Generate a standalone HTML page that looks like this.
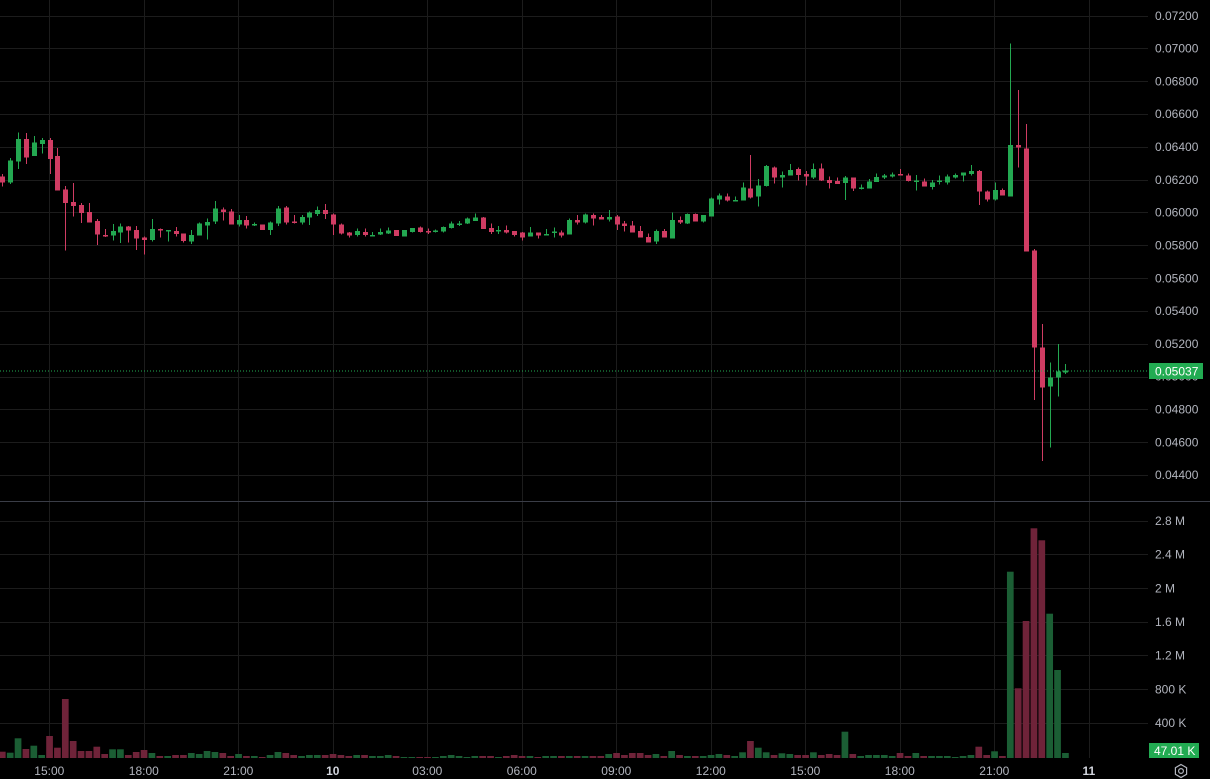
<!DOCTYPE html>
<html>
<head>
<meta charset="utf-8">
<style>
  html,body{margin:0;padding:0;background:#000;}
  body{width:1210px;height:779px;overflow:hidden;}
  svg{display:block;}
  text{font-family:"Liberation Sans",sans-serif;font-size:12px;fill:#b2b5be;}
</style>
</head>
<body>
<svg id="chart" width="1210" height="779" viewBox="0 0 1210 779" xmlns="http://www.w3.org/2000/svg">
  <rect x="0" y="0" width="1210" height="779" fill="#000"/>
  <g id="grid" stroke="#1c1c1c" stroke-width="1" shape-rendering="crispEdges"></g>
  <line x1="0" y1="501.5" x2="1210" y2="501.5" stroke="#3a3d47" stroke-width="1"/>
  <g id="vol"></g>
  <g id="candles" shape-rendering="crispEdges"></g>
  <line x1="0" y1="371" x2="1148" y2="371" stroke="#22ab52" stroke-width="1" stroke-dasharray="1 2"/>

  <!-- price axis labels -->
  <g>
    <text x="1155" y="20">0.07200</text>
    <text x="1155" y="52.5">0.07000</text>
    <text x="1155" y="85.4">0.06800</text>
    <text x="1155" y="118.2">0.06600</text>
    <text x="1155" y="151">0.06400</text>
    <text x="1155" y="183.8">0.06200</text>
    <text x="1155" y="216.6">0.06000</text>
    <text x="1155" y="249.4">0.05800</text>
    <text x="1155" y="282.3">0.05600</text>
    <text x="1155" y="315.1">0.05400</text>
    <text x="1155" y="347.9">0.05200</text>
    <text x="1155" y="380.7">0.05000</text>
    <text x="1155" y="413.5">0.04800</text>
    <text x="1155" y="446.3">0.04600</text>
    <text x="1155" y="479.2">0.04400</text>
  </g>
  <rect x="1149" y="363" width="54" height="16" fill="#22ab52"/>
  <text x="1155" y="375.5" style="fill:#ffffff">0.05037</text>

  <!-- volume axis labels -->
  <g>
    <text x="1155" y="525">2.8 M</text>
    <text x="1155" y="558.7">2.4 M</text>
    <text x="1155" y="592.4">2 M</text>
    <text x="1155" y="626">1.6 M</text>
    <text x="1155" y="659.7">1.2 M</text>
    <text x="1155" y="693.4">800 K</text>
    <text x="1155" y="727">400 K</text>
  </g>
  <rect x="1149" y="743" width="50" height="15" fill="#22ab52"/>
  <text x="1154" y="755" style="fill:#ffffff">47.01 K</text>

  <!-- time axis -->
  <g text-anchor="middle">
    <text x="49.3" y="775">15:00</text>
    <text x="143.8" y="775">18:00</text>
    <text x="238.3" y="775">21:00</text>
    <text x="332.8" y="775" style="font-weight:bold;fill:#d1d4dc">10</text>
    <text x="427.3" y="775">03:00</text>
    <text x="521.8" y="775">06:00</text>
    <text x="616.3" y="775">09:00</text>
    <text x="710.8" y="775">12:00</text>
    <text x="805.3" y="775">15:00</text>
    <text x="899.8" y="775">18:00</text>
    <text x="994.3" y="775">21:00</text>
    <text x="1088.8" y="775" style="font-weight:bold;fill:#d1d4dc">11</text>
  </g>

  <!-- settings icon -->
  <g fill="none" stroke="#b2b5be" stroke-width="1.2">
    <polygon points="1181,764.5 1186.6,767.7 1186.6,774.3 1181,777.5 1175.4,774.3 1175.4,767.7"/>
    <circle cx="1181" cy="771" r="2.4"/>
  </g>
</svg>

<script>
(function(){
  var NS="http://www.w3.org/2000/svg";
  function el(parent,name,attrs){var e=document.createElementNS(NS,name);for(var k in attrs)e.setAttribute(k,attrs[k]);parent.appendChild(e);return e;}
  var grid=document.getElementById('grid');
  // horizontal price gridlines
  for(var k=0;k<=14;k++){var y=Math.round(15.5+k*32.82)+0.5;el(grid,'line',{x1:0,y1:y,x2:1148,y2:y});}
  // volume gridlines
  for(var j=0;j<=6;j++){var y2=Math.round(520.7+j*33.67)+0.5;el(grid,'line',{x1:0,y1:y2,x2:1148,y2:y2});}
  // vertical gridlines
  for(var t=0;t<12;t++){var x=Math.round(49.3+94.5*t)+0.5;el(grid,'line',{x1:x,y1:0,x2:x,y2:758});}

  var C=[
['r',176.7,182.3,174,186.7],['g',160.7,182.7,158,184],['g',139,161.7,132.7,169],['r',139,157.3,133,164],
['g',142.7,156,136,156],['g',140,144,138,153.3],['r',140,159,138,174],['r',156,190.7,148,190.7],
['r',189.7,203,186,250.7],['r',202,206,183,216.7],['r',205,213,203,223],['r',212,222.7,203,222.7],
['r',221,234.7,219,245],['r',235,236,229,237],['g',231,235.7,224,240.7],['g',226.7,232.7,223.7,243],
['r',226.7,230.7,226,242.7],['r',230,238.7,226,250],['r',237.7,240,236.7,254.3],['g',229,240,219,241.7],
['r',229,230.7,228.3,237.3],['g',230,230.7,230,241.7],['r',231,234,227,236.7],['r',233.3,241,233.3,242.7],
['g',235,241.7,230,244],['g',223.7,235.7,222.7,235.7],['g',222,225.3,218.3,239.3],['g',208.3,221.7,201,224],
['r',209.3,212,207.7,220.7],['r',211.7,224.7,209,224.7],['g',220,224.3,215,226.7],['r',220,225.3,216,228.3],
['g',224,225.3,222.7,226],['r',224.3,230,224.3,230],['g',222.7,230,221.7,235],['g',208.3,223.3,206,226],
['r',207.7,222.7,206,224.3],['r',221.7,222.7,215,223.3],['g',217,222.3,215,224.3],['g',212.3,217.7,211.7,225],
['g',210,214,206.7,216],['r',210,214,204,219],['r',214.3,224.3,213.3,235],['r',224.3,233.7,223.7,234.3],
['r',232.7,235.7,232,237.7],['g',231,235,228.3,236.7],['r',232,235,228.3,236.7],['g',235,236,232,236.7],
['g',232,234.7,228.3,235],['g',230.7,233.7,227.3,234],['r',230,236,230,236],['g',230,236.7,230,236.7],
['g',228,232,228,232.3],['r',227.7,232,226.3,232.7],['r',231,232,228.7,234],['g',230.7,231.7,229.7,232.7],
['g',227,231.7,226.7,232.3],['g',223.7,228,221.7,228.3],['g',223.3,225,221,226],['g',218.7,223.7,217.7,224],
['g',217.7,221,213.3,221],['r',217.7,229,217,229],['r',228,232,223.3,234],['g',230,231,226,234],
['r',230,232.7,225.3,233.3],['r',231,235,231,236.7],['r',232.7,237.7,232,240.7],['g',232.3,236.3,227,236.3],
['r',232.3,235.7,232.3,238.3],['g',234,235,229,235.7],['g',231.7,232.7,227.7,237.7],['r',232.3,235.7,230.3,237.7],
['g',220,234.3,218.3,234.3],['r',220,222.7,215,224.3],['g',214.3,222.7,213.3,223.3],['r',215,218.7,213.3,225.3],
['r',217,219.7,215,219.7],['g',217,219.7,210,221.7],['r',216.7,224.3,215,230],['r',223.3,226,221,231.7],
['r',225.3,232.7,221,232.7],['r',231,237.3,226,237.7],['r',237,242.3,233.3,242.3],['g',231,241.3,229.3,244],
['r',231,237.3,229,237.3],['g',220,238.3,212.3,238.3],['r',220,222.7,216.3,224],['g',214,223.3,213.3,224],
['r',214,221.7,213.3,221.7],['g',215,221.7,215,222.3],['g',198.3,216.7,197.3,216.7],['g',195.3,199.3,193.3,204.3],
['r',196.7,200.7,193.3,201.7],['g',200,201,196.7,201.7],['g',187.7,200.7,182.7,200.7],['r',188.7,197.7,155,198.3],
['g',185.7,196.7,179,206.7],['g',166,186,165,186.7],['r',167.3,177.3,166.7,183.3],['g',175,177.3,171.7,187.7],
['g',170,175.7,164,175.7],['r',169,175,167.7,180.3],['r',174,176.7,171,185.7],['g',169,177.7,163.3,179],
['r',168.3,180.7,163.3,181],['r',180,183,176.7,188.3],['r',181,184,177.7,184],['g',177.7,183,176,200],
['r',177.7,188.3,177.7,191],['g',187.7,188.7,184.3,189.7],['g',181.7,188.3,179,188.3],['g',177,182,173.3,182],
['g',175.7,177.7,174,179],['g',174.3,176.7,172.3,177.7],['r',174,175.7,169,175.7],['r',175.7,181,173.3,181.7],
['g',180.7,181.7,175,190.7],['r',181.7,186.7,178.3,186.7],['g',182.3,187,180,189.7],['g',180.7,181.7,175.7,184.3],
['g',176.7,182.3,174.3,184.3],['g',175,177.7,173.3,178.3],['g',172.3,175.7,172.3,181.7],['g',171,174,165,175.7],
['r',171,191.7,170,205],['r',191.7,199.3,190.7,201.7],['g',190,199.3,182.3,200.7],['r',190,195.3,188.3,195.3],
['g',145,196.7,43.3,196.7],['r',145,147.3,90,167.3],['r',148.3,251.7,124,251.7],['r',250.7,347.3,249,400],
['r',347.3,387.7,324,461],['g',377.3,386.7,362.7,447.7],['g',371.7,377.7,344,396.7],['g',370.7,372.3,364,374]
  ];
  var V=[751.7,752.7,738.3,749,745.7,755,736,747.7,699,741,751,751,746.7,754,749.3,749.3,755,752,750,753,
756,756,755,755,753,754,751,752,753,756,754,756,756,757,755,752,753,755,756,755,755,755,754,755,756,755,755,756,756,755,
756,757,757,757,757,757,756,755,756,757,756,756,756,757,756,755,756,756,757,756,756,756,756,756,756,756,756,754,753,755,
753,753,755,754,756,751,755,756,756,756,755,754,755,756,752.3,741,747.7,752.3,755,753.3,754,755,755,752.3,755,754,755,731.7,754,756,
755,755,755,756,753,756,753,756,756,756,756,757,756,755,746.7,755,751.3,756,571.7,688.3,621,528.3,540.3,613.7,670,753];

  var COL={g:'#23a851',r:'#d03c63'};
  var VCOL={g:'#1b5e34',r:'#6f2339'};
  var vol=document.getElementById('vol');
  var cg=document.getElementById('candles');
  var base=758;
  for(var i=0;i<C.length;i++){
    var c=C[i];var xc=2.3+7.875*i;
    // volume bar
    var vt=V[i];
    el(vol,'rect',{x:(xc-3.35).toFixed(2),y:vt,width:6.7,height:Math.max(1,base-vt),fill:VCOL[c[0]]});
    // wick
    var wx=Math.round(xc);
    el(cg,'rect',{x:wx,y:c[3],width:1,height:Math.max(1,c[4]-c[3]),fill:COL[c[0]]});
    // body
    el(cg,'rect',{x:wx-2,y:c[1],width:5,height:Math.max(1.5,c[2]-c[1]),fill:COL[c[0]]});
  }
})();
</script>
</body>
</html>
